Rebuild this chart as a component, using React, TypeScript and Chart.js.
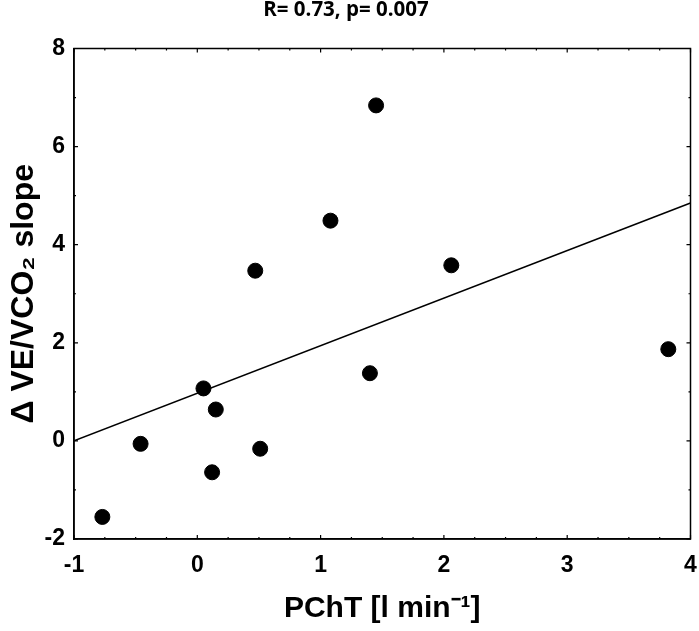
import React, { useEffect, useRef } from "react";
import { Chart, registerables } from "chart.js";

Chart.register(...registerables);

// Scatter data
const pchtValues = [-0.77, -0.46, 0.05, 0.15, 0.12, 0.47, 0.51, 1.08, 1.4, 1.45, 2.06, 3.82];
const slopeValues = [-1.55, -0.06, 1.07, 0.64, -0.64, 3.47, -0.16, 4.49, 1.38, 6.84, 3.58, 1.87];

// Regression line end points
const fitX = [-1, 4];
const fitY = [0, 4.85];

// Axis ranges / ticks
const xRange = [-1, 4];
const yRange = [-2, 8];
const xMajorStep = 1;
const xMinorStep = 0.25;
const yMajorStep = 2;
const yMinorStep = 1;

const titleText = "R= 0.73, p= 0.007";
const xTitle = "PChT [l min\u207B\u00B9]";
const yTitle = "\u0394 VE/VCO\u2082 slope";

const tickFont = '"Liberation Sans Narrow", "Arial Narrow", "Liberation Sans", Arial, sans-serif';
const titleFontFamily = '"Liberation Sans", Arial, sans-serif';

const framePlugin = {
  id: "frameTicks",
  afterDatasetsDraw(chart: any) {
    const { ctx, chartArea } = chart;
    const xs = chart.scales.x;
    const ys = chart.scales.y;
    const { left, right, top, bottom } = chartArea;
    ctx.save();
    ctx.strokeStyle = "#000";
    ctx.lineWidth = 1.5;
    ctx.strokeRect(left, top, right - left, bottom - top);
    ctx.lineWidth = 1.2;
    ctx.beginPath();
    const nX = Math.round((xRange[1] - xRange[0]) / xMinorStep);
    for (let i = 0; i <= nX; i++) {
      const v = xRange[0] + i * xMinorStep;
      const isMajor = Math.abs(v / xMajorStep - Math.round(v / xMajorStep)) < 1e-6;
      const len = isMajor ? 4 : 2;
      const px = xs.getPixelForValue(v);
      ctx.moveTo(px, bottom);
      ctx.lineTo(px, bottom - len);
      ctx.moveTo(px, top);
      ctx.lineTo(px, top + len);
    }
    const nY = Math.round((yRange[1] - yRange[0]) / yMinorStep);
    for (let i = 0; i <= nY; i++) {
      const v = yRange[0] + i * yMinorStep;
      const isMajor = Math.abs(v / yMajorStep - Math.round(v / yMajorStep)) < 1e-6;
      const len = isMajor ? 4 : 2;
      const py = ys.getPixelForValue(v);
      ctx.moveTo(left, py);
      ctx.lineTo(left + len, py);
      ctx.moveTo(right, py);
      ctx.lineTo(right - len, py);
    }
    ctx.stroke();
    ctx.restore();
  },
};

export default function App() {
  const ref = useRef<HTMLCanvasElement | null>(null);

  useEffect(() => {
    if (!ref.current) return;
    const points = pchtValues.map((x, i) => ({ x, y: slopeValues[i] }));
    const fit = fitX.map((x, i) => ({ x, y: fitY[i] }));
    const chart = new Chart(ref.current, {
      type: "scatter",
      data: {
        datasets: [
          {
            type: "line",
            data: fit,
            borderColor: "#000",
            borderWidth: 1.5,
            pointRadius: 0,
            fill: false,
          } as any,
          {
            data: points,
            backgroundColor: "#000",
            borderColor: "#000",
            pointRadius: 7.5,
            pointHoverRadius: 7.5,
            pointStyle: "circle",
          },
        ],
      },
      options: {
        responsive: false,
        animation: false,
        devicePixelRatio: 1,
        layout: { padding: { left: 0, right: 7, top: 0, bottom: 0 } },
        plugins: {
          legend: { display: false },
          tooltip: { enabled: false },
          title: {
            display: true,
            text: titleText,
            color: "#000",
            font: { family: '"Open Sans", Lato, sans-serif', size: 20.5, weight: "bold", lineHeight: 1.0 },
            padding: { top: 0, bottom: 28 },
          },
        },
        scales: {
          x: {
            type: "linear",
            min: xRange[0],
            max: xRange[1],
            grid: { display: false, drawTicks: false },
            border: { display: true, color: "#000", width: 1.5 },
            ticks: {
              stepSize: xMajorStep,
              color: "#000",
              padding: 13,
              maxRotation: 0,
              font: { family: tickFont, size: 23, weight: "bold" },
            },
            title: {
              display: true,
              text: xTitle,
              color: "#000",
              font: { family: titleFontFamily, size: 30, weight: "bold", lineHeight: 1.2 },
              padding: { top: 0, bottom: 4 },
            },
            afterFit: (s: any) => {
              s.height = 92;
              s.paddingLeft = 0;
              s.paddingRight = 0;
            },
          },
          y: {
            type: "linear",
            min: yRange[0],
            max: yRange[1],
            grid: { display: false, drawTicks: false },
            border: { display: true, color: "#000", width: 1.5 },
            ticks: {
              stepSize: yMajorStep,
              color: "#000",
              padding: 9,
              font: { family: tickFont, size: 23, weight: "bold" },
            },
            title: {
              display: true,
              text: yTitle,
              color: "#000",
              font: { family: titleFontFamily, size: 32, weight: "bold", lineHeight: 1.2 },
              padding: { top: 5, bottom: 0 },
            },
            afterFit: (s: any) => {
              s.width = 74;
              s.paddingTop = 0;
              s.paddingBottom = 0;
            },
          },
        },
      },
      plugins: [framePlugin],
    });
    return () => chart.destroy();
  }, []);

  return (
    <div style={{ position: "fixed", left: 0, top: 0, width: 699, height: 631, background: "#fff" }}>
      <canvas ref={ref} width={699} height={631} style={{ display: "block" }} />
    </div>
  );
}
